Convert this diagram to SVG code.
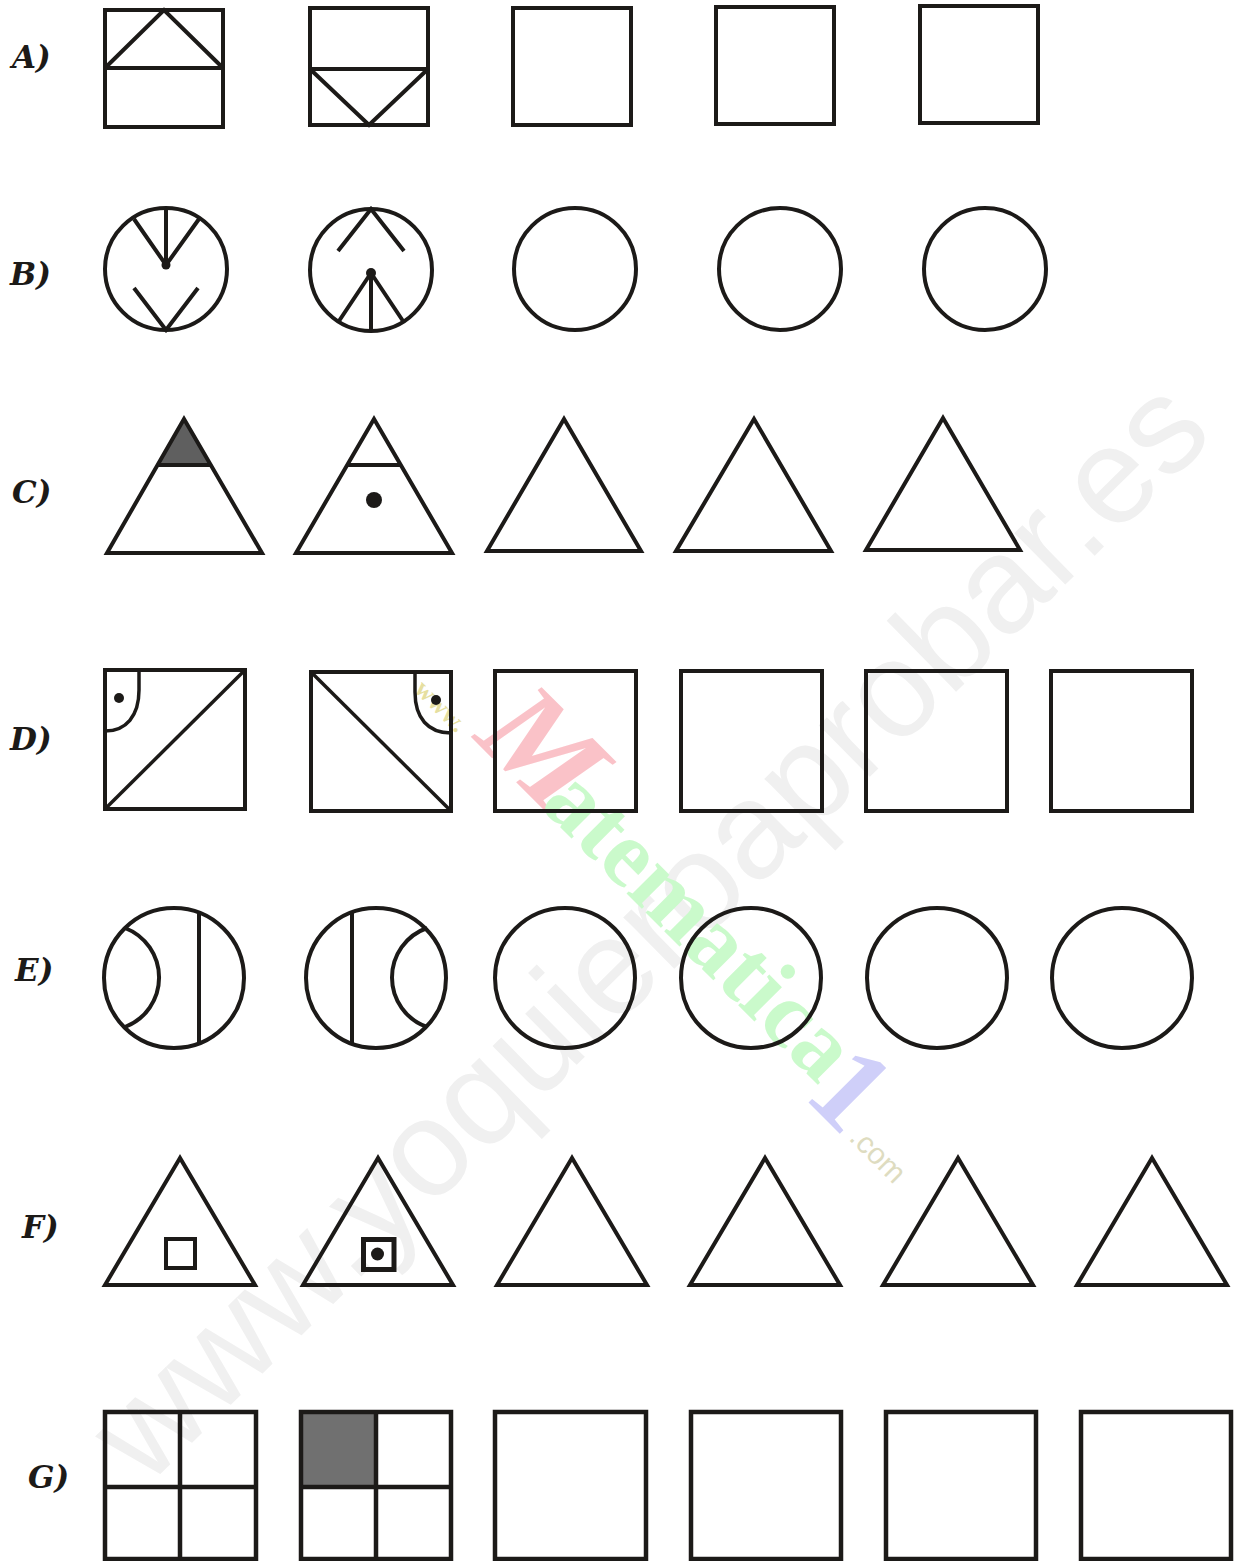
<svg xmlns="http://www.w3.org/2000/svg" width="1243" height="1561" viewBox="0 0 1243 1561">
<style>
.s{fill:none;stroke:#1c1a18;stroke-width:4;stroke-linejoin:miter}
.t{fill:none;stroke:#1c1a18;stroke-width:3.5}
.dot{fill:#1c1a18}
.lab{font-family:"DejaVu Serif","Liberation Serif",serif;font-weight:bold;font-style:italic;font-size:31px;fill:#1c1a18}
.wm{font-family:"Liberation Sans",Arial,sans-serif;font-size:137px;fill:#f0f0f0}
</style>
<rect width="1243" height="1561" fill="#ffffff"/>
<g id="watermarks">
<text class="wm" transform="translate(146,1488) rotate(-44.5)">www.yoquieroaprobar.es</text>
<text transform="translate(435,712) rotate(45)" text-anchor="middle" font-family="Liberation Serif,serif" font-weight="bold" font-size="26" fill="#e6dfa0">www.</text>
<text transform="translate(472,738) rotate(45)" font-family="Liberation Serif,serif" font-weight="bold" font-style="italic" font-size="130" fill="#fac2c8">M</text>
<text transform="translate(539,806) rotate(45)" font-family="Liberation Serif,serif" font-weight="bold" font-size="95" fill="#cafacb">atematica</text>
<text transform="translate(823,1117) rotate(45)" text-anchor="middle" font-family="Liberation Serif,serif" font-weight="bold" font-size="120" fill="#cfcff9">1</text>
<text transform="translate(871,1162) rotate(45)" text-anchor="middle" font-family="Liberation Sans,sans-serif" font-size="30" fill="#dedcc0">.com</text>
</g>
<g id="labels">
<text class="lab" x="12" y="68">A)</text>
<text class="lab" x="10" y="285">B)</text>
<text class="lab" x="12" y="503">C)</text>
<text class="lab" x="10" y="750">D)</text>
<text class="lab" x="15" y="981">E)</text>
<text class="lab" x="22" y="1238">F)</text>
<text class="lab" x="28" y="1488">G)</text>
</g>
<g id="rowA">
<g id="A1"><rect class="s" x="105" y="10" width="118" height="117"/><path class="s" d="M105,68 H223 M105,68 L164,10 L223,68"/></g>
<g id="A2"><rect class="s" x="310" y="8" width="118" height="117"/><path class="s" d="M310,69 H428 M310,69 L369,125 L428,69"/></g>
<g id="A3"><rect class="s" x="513" y="8" width="118" height="117"/></g>
<g id="A4"><rect class="s" x="716" y="7" width="118" height="117"/></g>
<g id="A5"><rect class="s" x="920" y="6" width="118" height="117"/></g>
</g>
<g id="rowB">
<g id="B1"><circle class="s" cx="166" cy="269" r="61"/><path class="s" d="M166,208 V265 M134,219 L166,265 L199,219 M134,288 L166,330 L198,288"/><circle class="dot" cx="166" cy="265" r="4.5"/></g>
<g id="B2"><circle class="s" cx="371" cy="270" r="61"/><path class="s" d="M338,251 L371,209 L404,251 M339,321 L371,273 L403,321 M371,273 V331"/><circle class="dot" cx="371" cy="273" r="5"/></g>
<g id="B3"><circle class="s" cx="575" cy="269" r="61"/></g>
<g id="B4"><circle class="s" cx="780" cy="269" r="61"/></g>
<g id="B5"><circle class="s" cx="985" cy="269" r="61"/></g>
</g>
<g id="rowC">
<g id="C1"><polygon points="184,419 157.6,465 210.4,465" fill="#5f5f5f"/><polygon class="s" points="184,419 107,553 262,553"/><path class="s" d="M157.6,465 H210.4"/></g>
<g id="C2"><polygon class="s" points="374,419 296,553 452,553"/><path class="s" d="M347.5,465 H400.5"/><circle class="dot" cx="374" cy="500" r="8"/></g>
<g id="C3"><polygon class="s" points="564,419 487,551 641,551"/></g>
<g id="C4"><polygon class="s" points="754,419 676,551 831,551"/></g>
<g id="C5"><polygon class="s" points="943,418 866,550 1020,550"/></g>
</g>
<g id="rowD">
<g id="D1"><rect class="s" x="105" y="670" width="140" height="139"/><path class="t" d="M105,809 L245,670"/><path class="t" d="M139,670 V690 C139,716 126,731 105,731"/><circle class="dot" cx="119" cy="698" r="5"/></g>
<g id="D2"><rect class="s" x="311" y="672" width="140" height="139"/><path class="t" d="M311,672 L451,811"/><path class="t" d="M415,672 V692 C415,718 428,733 451,733"/><circle class="dot" cx="436" cy="700" r="5"/></g>
<g id="D3"><rect class="s" x="495" y="671" width="141" height="140"/></g>
<g id="D4"><rect class="s" x="681" y="671" width="141" height="140"/></g>
<g id="D5"><rect class="s" x="866" y="671" width="141" height="140"/></g>
<g id="D6"><rect class="s" x="1051" y="671" width="141" height="140"/></g>
</g>
<g id="rowE">
<g id="E1"><circle class="s" cx="174" cy="978" r="70"/><path class="s" d="M199,911 V1045"/><path class="s" d="M125,928 A53,53 0 0 1 125,1027"/></g>
<g id="E2"><circle class="s" cx="376" cy="978" r="70"/><path class="s" d="M352,911 V1045"/><path class="s" d="M427,928 A52.5,52.5 0 0 0 427,1027"/></g>
<g id="E3"><circle class="s" cx="565" cy="978" r="70"/></g>
<g id="E4"><circle class="s" cx="751" cy="978" r="70"/></g>
<g id="E5"><circle class="s" cx="937" cy="978" r="70"/></g>
<g id="E6"><circle class="s" cx="1122" cy="978" r="70"/></g>
</g>
<g id="rowF">
<g id="F1"><polygon class="s" points="180,1158 105,1285 255,1285"/><rect class="s" x="166" y="1239" width="29" height="29"/></g>
<g id="F2"><polygon class="s" points="378,1158 303,1285 453,1285"/><rect class="s" x="363.5" y="1239.5" width="30.5" height="30" style="stroke-width:5"/><circle class="dot" cx="377.5" cy="1254" r="6.5"/></g>
<g id="F3"><polygon class="s" points="572,1158 497,1285 647,1285"/></g>
<g id="F4"><polygon class="s" points="765,1158 690,1285 840,1285"/></g>
<g id="F5"><polygon class="s" points="958,1158 883,1285 1033,1285"/></g>
<g id="F6"><polygon class="s" points="1152,1158 1077,1285 1227,1285"/></g>
</g>
<g id="rowG">
<g id="G1"><rect class="s" x="105" y="1412" width="151" height="147" style="stroke-width:4.5"/><path class="s" d="M180,1412 V1559 M105,1487 H256" style="stroke-width:4.5"/></g>
<g id="G2"><rect x="301" y="1412" width="75" height="75" fill="#707070"/><rect class="s" x="301" y="1412" width="150" height="147" style="stroke-width:4.5"/><path class="s" d="M376,1412 V1559 M301,1487 H451" style="stroke-width:4.5"/></g>
<g id="G3"><rect class="s" x="495" y="1412" width="151" height="147" style="stroke-width:4.5"/></g>
<g id="G4"><rect class="s" x="691" y="1412" width="150" height="147" style="stroke-width:4.5"/></g>
<g id="G5"><rect class="s" x="886" y="1412" width="150" height="147" style="stroke-width:4.5"/></g>
<g id="G6"><rect class="s" x="1081" y="1412" width="150" height="147" style="stroke-width:4.5"/></g>
</g>
</svg>
